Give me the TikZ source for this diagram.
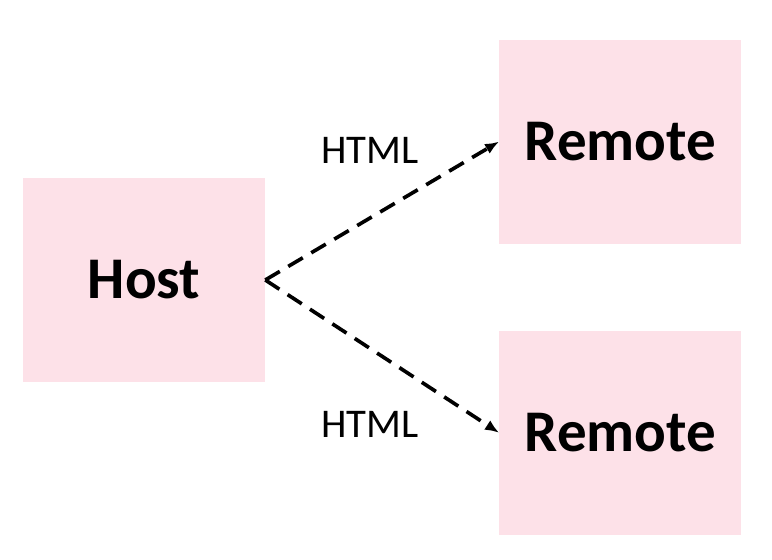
\documentclass[tikz,border=0pt]{standalone}
\usepackage{fontspec}
\setmainfont{Carlito}
\usetikzlibrary{arrows.meta}
\definecolor{boxpink}{RGB}{253,225,232}
\tikzset{
	pinkbox/.style={fill=boxpink, draw=none, minimum width=6.05cm, minimum height=5.1cm, font=\fontsize{42}{48}\selectfont\bfseries},
	htmlarrow/.style={draw=black, -{Latex[length=10pt,width=8pt]}, line width=2.6pt, dash pattern=on 12pt off 7pt},
	htmllabel/.style={black, font=\fontsize{29}{34}\selectfont}
}
\begin{document}
\begin{tikzpicture}
	\useasboundingbox (0.00,0.00) rectangle (19.30,14.00);
	\node[pinkbox] (host) at (3.60,7.00) {Host};
	\node[pinkbox] (remoteA) at (15.51,10.46) {Remote};
	\node[pinkbox] (remoteB) at (15.51,3.18) {Remote};
	\draw[htmlarrow] (host.east) -- (remoteA.west);
	\draw[htmlarrow] (host.east) -- (remoteB.west);
	\node[htmllabel] (labelA) at (9.25,10.25) {HTML};
	\node[htmllabel] (labelB) at (9.25,3.38) {HTML};
\end{tikzpicture}
\end{document}
